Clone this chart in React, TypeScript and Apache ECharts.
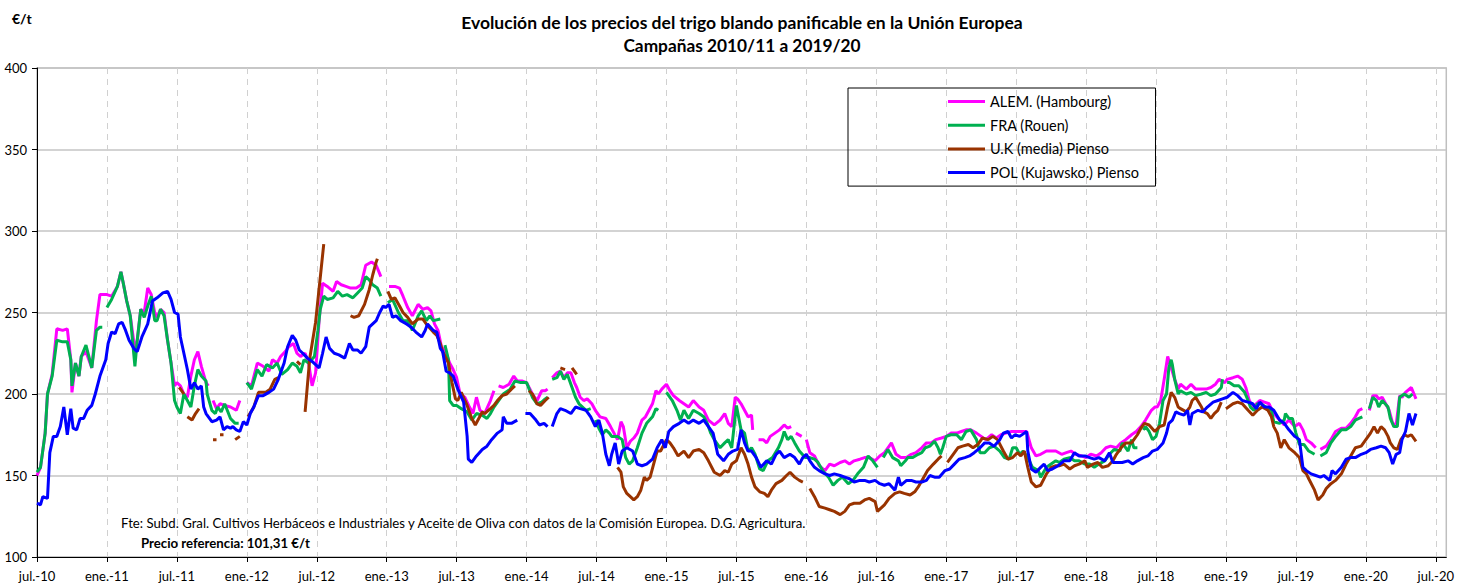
import React, { useEffect, useRef } from "react";
import * as echarts from "echarts";

// x = months since July 2010 (0 = jul.-10, 120 = jul.-20); y = €/t ; null = gap in the weekly series
const xTickLabels = [
  "jul.-10", "ene.-11", "jul.-11", "ene.-12", "jul.-12", "ene.-13", "jul.-13", "ene.-14",
  "jul.-14", "ene.-15", "jul.-15", "ene.-16", "jul.-16", "ene.-17", "jul.-17", "ene.-18",
  "jul.-18", "ene.-19", "jul.-19", "ene.-20", "jul.-20",
];
const seriesNames = ["ALEM. (Hambourg)", "FRA (Rouen)", "U.K (media) Pienso", "POL (Kujawsko.) Pienso"];
const seriesColors = ["#FF00FF", "#00B050", "#993300", "#0000FF"];

const alemHambourg: [number, number | null][] = [
  [0,150],[0.3,155],[0.7,176],[0.9,200],[1.3,212],[1.7,240],[2.2,239],[2.6,240],[2.9,221],[3.0,201],[3.3,219],[3.6,211],[3.8,223],[4.2,226],[4.7,216],[5.1,245],[5.4,261],[6.0,261],[6.4,260],[6.9,266],[7.2,275],[7.4,268],[7.7,257],[8.0,248],[8.4,227],[8.6,233],[8.9,252],[9.2,250],[9.5,265],[9.8,261],[10.1,250],[10.3,247],[10.6,252],[10.9,250],[11.2,233],[11.5,219],[11.8,205],[12.0,207],[12.3,205],[12.6,200],[12.9,198],[13.2,211],[13.5,221],[13.8,226],[14.1,217],[14.5,207],[14.7,205],[14.9,null],
  [15.1,196],[15.4,191],[15.7,194],[16.1,193],[16.6,192],[17.1,190],[17.4,196],[17.6,null],
  [18.0,207],[18.4,205],[18.9,219],[19.4,217],[19.9,214],[20.2,221],[20.6,219],[20.9,223],[21.3,226],[21.6,229],[22.0,231],[22.3,225],[22.6,223],[23.0,225],[23.3,219],[23.6,205],[23.9,213],[24.2,245],[24.5,268],[24.9,266],[25.4,263],[25.7,269],[26.1,267],[26.5,266],[26.9,265],[27.4,265],[27.8,267],[28.2,279],[28.7,281],[29.1,279],[29.5,272],[29.8,null],
  [30.2,266],[30.7,266],[31.1,265],[31.4,260],[31.8,253],[32.2,248],[32.7,255],[33.1,252],[33.5,253],[33.8,251],[34.1,243],[34.4,239],[34.7,229],[35.1,225],[35.4,219],[35.7,215],[36.0,210],[36.3,200],[36.7,198],[37.1,192],[37.4,188],[37.7,198],[38.0,190],[38.4,188],[38.9,196],[39.2,202],[39.4,null],
  [39.6,205],[40.0,204],[40.5,206],[40.9,211],[41.2,208],[41.6,208],[42.0,207],[42.5,200],[42.9,196],[43.3,202],[43.6,202],[43.8,203],[44.0,null],
  [44.2,210],[44.6,213],[44.9,214],[45.2,210],[45.5,213],[45.8,213],[46.1,207],[46.3,204],[46.6,198],[46.9,196],[47.2,197],[47.6,194],[47.9,190],[48.3,186],[48.8,185],[49.2,180],[49.5,176],[49.8,172],[50.1,183],[50.3,180],[50.6,167],[50.9,171],[51.2,173],[51.5,176],[51.9,184],[52.2,186],[52.5,190],[52.8,194],[53.1,202],[53.3,200],[53.6,203],[54.0,206],[54.3,202],[54.6,199],[55.1,196],[55.5,194],[55.9,192],[56.3,196],[56.8,192],[57.2,190],[57.6,184],[58.1,181],[58.6,184],[59.0,188],[59.3,182],[59.6,180],[59.9,198],[60.1,197],[60.4,194],[60.7,190],[61.0,186],[61.3,187],[61.4,178],[61.6,null],
  [61.9,172],[62.3,172],[62.6,170],[62.9,174],[63.3,176],[63.7,178],[64.1,181],[64.4,179],[64.7,180],[64.9,null],
  [65.1,176],[65.6,174],[65.8,null],
  [66.0,172],[66.3,164],[66.7,162],[67.1,156],[67.6,153],[68.0,157],[68.4,156],[68.9,158],[69.3,159],[69.7,157],[70.1,159],[70.6,160],[71.0,161],[71.4,161],[71.9,159],[72.3,162],[72.7,164],[73.0,167],[73.3,170],[73.7,163],[74.1,161],[74.6,161],[75.0,163],[75.4,164],[75.9,167],[76.3,170],[76.7,170],[77.1,172],[77.6,173],[78.0,174],[78.4,176],[78.9,176],[79.3,177],[79.7,178],[80.1,178],[80.6,176],[81.0,174],[81.4,172],[81.9,175],[82.3,173],[82.7,175],[83.1,176],[83.6,177],[84.0,177],[84.4,177],[84.9,177],[85.3,167],[85.7,162],[86.1,163],[86.6,165],[87.1,165],[87.4,165],[87.9,163],[88.3,164],[88.7,165],[89.1,163],[89.6,162],[90.0,161],[90.4,163],[90.9,162],[91.3,164],[91.7,167],[92.1,168],[92.6,167],[93.0,170],[93.4,172],[93.9,175],[94.3,177],[94.7,180],[95.1,184],[95.6,190],[95.9,192],[96.1,192],[96.4,196],[96.7,209],[97.0,223],[97.3,216],[97.6,209],[97.9,203],[98.1,206],[98.6,203],[99.0,206],[99.4,203],[99.9,203],[100.3,203],[100.7,204],[101.1,206],[101.4,209],[101.9,207],[102.1,209],[102.6,210],[103.0,211],[103.4,209],[103.7,204],[104.0,196],[104.3,192],[104.6,194],[104.9,196],[105.3,195],[105.7,194],[106.1,188],[106.6,184],[107.0,181],[107.4,184],[107.9,180],[108.3,182],[108.6,178],[108.9,172],[109.3,170],[109.7,167],[109.9,null],
  [110.1,166],[110.6,168],[111.0,172],[111.4,177],[111.9,179],[112.3,179],[112.7,182],[113.1,186],[113.4,190],[113.7,191],[114.0,null],
  [114.3,190],[114.6,199],[114.9,199],[115.1,197],[115.4,198],[115.7,194],[116.0,190],[116.3,182],[116.6,181],[116.9,199],[117.1,198],[117.4,201],[117.9,204],[118.3,197],
];

const fraRouen: [number, number | null][] = [
  [0,152],[0.3,155],[0.7,176],[0.9,200],[1.3,211],[1.7,233],[2.2,232],[2.6,232],[2.9,221],[3.0,205],[3.3,219],[3.6,211],[3.8,223],[4.2,230],[4.7,216],[5.1,239],[5.4,241],[5.6,241],[5.8,null],
  [6.0,253],[6.4,258],[6.9,266],[7.2,275],[7.4,268],[7.7,257],[8.0,248],[8.4,217],[8.6,233],[8.9,252],[9.2,247],[9.5,254],[9.8,260],[10.1,245],[10.3,245],[10.6,252],[10.9,248],[11.2,233],[11.5,219],[11.8,196],[12.0,192],[12.3,188],[12.6,200],[12.9,196],[13.2,192],[13.5,205],[13.8,215],[14.1,211],[14.5,208],[14.6,200],[15.0,190],[15.3,188],[15.5,192],[15.8,189],[16.1,194],[16.6,185],[17.0,182],[17.3,182],[17.6,null],
  [18.0,207],[18.4,203],[18.9,215],[19.3,211],[19.7,218],[20.2,216],[20.6,219],[21.0,212],[21.5,215],[21.9,219],[22.3,217],[22.6,213],[22.9,221],[23.3,219],[23.8,223],[24.1,239],[24.3,252],[24.6,260],[24.9,258],[25.4,259],[25.8,263],[26.2,260],[26.6,261],[27.1,259],[27.5,262],[27.9,265],[28.2,272],[28.5,270],[28.8,267],[29.2,265],[29.5,260],[29.7,null],
  [30.1,256],[30.5,258],[31.0,250],[31.4,245],[31.8,245],[32.2,239],[32.7,248],[33.0,251],[33.4,245],[33.7,248],[34.0,245],[34.6,246],[34.8,null],
  [35.0,230],[35.3,221],[35.4,196],[35.7,193],[36.0,193],[36.4,191],[36.9,189],[37.3,184],[37.7,188],[38.2,187],[38.6,185],[38.9,188],[39.2,192],[39.6,196],[40.0,200],[40.6,203],[41.0,208],[41.5,207],[42.0,207],[42.5,198],[42.9,194],[43.3,195],[43.6,197],[43.8,198],[44.0,null],
  [44.2,209],[44.6,210],[44.9,214],[45.2,209],[45.5,212],[45.9,204],[46.2,198],[46.5,194],[46.8,192],[47.1,190],[47.5,191],[47.7,null],
  [47.9,184],[48.2,179],[48.5,175],[48.8,178],[49.1,176],[49.3,174],[49.8,174],[50.2,172],[50.5,161],[50.8,157],[51.1,159],[51.5,167],[51.9,176],[52.3,182],[52.8,186],[53.1,191],[53.3,190],[53.6,null],
  [54.0,201],[54.5,196],[54.9,190],[55.2,184],[55.5,190],[55.9,185],[56.3,190],[56.8,188],[57.2,186],[57.5,182],[57.8,176],[58.1,172],[58.6,167],[59.0,170],[59.3,172],[59.6,167],[60.0,193],[60.4,178],[60.7,176],[61.0,165],[61.3,167],[61.6,163],[62.0,154],[62.3,153],[62.7,159],[63.1,161],[63.6,167],[63.9,172],[64.1,177],[64.4,172],[64.7,174],[65.0,170],[65.4,165],[65.9,161],[66.3,161],[66.7,160],[67.0,158],[67.4,153],[67.9,149],[68.3,144],[68.7,147],[69.1,149],[69.6,145],[70.0,147],[70.4,151],[70.9,155],[71.3,162],[71.7,159],[72.1,155],[72.4,null],
  [72.6,161],[73.0,166],[73.4,161],[73.9,159],[74.1,156],[74.5,159],[74.7,161],[75.1,161],[75.6,163],[75.9,164],[76.2,167],[76.6,168],[77.0,171],[77.3,167],[77.5,163],[77.7,167],[78.0,174],[78.4,175],[78.9,175],[79.3,172],[79.7,177],[80.1,178],[80.6,172],[80.9,164],[81.3,164],[81.7,167],[82.1,168],[82.6,165],[83.0,161],[83.4,160],[83.7,167],[84.0,167],[84.3,163],[84.6,165],[85.0,161],[85.4,155],[85.9,153],[86.1,149],[86.6,155],[87.0,157],[87.4,159],[87.7,158],[88.1,160],[88.6,161],[89.0,159],[89.4,159],[89.9,157],[90.3,157],[90.7,155],[91.1,157],[91.6,159],[92.0,163],[92.4,166],[92.9,165],[93.1,170],[93.6,165],[93.9,172],[94.1,167],[94.4,167],[94.6,null],
  [94.9,178],[95.1,180],[95.4,177],[95.7,172],[96.0,174],[96.3,182],[96.6,196],[96.9,200],[97.1,216],[97.3,221],[97.4,218],[97.6,209],[97.9,200],[98.1,202],[98.6,200],[99.0,201],[99.4,199],[99.9,200],[100.3,201],[100.7,199],[101.1,200],[101.6,204],[101.7,209],[101.9,null],
  [102.1,207],[102.3,207],[102.7,205],[103.1,205],[103.6,201],[103.9,196],[104.1,192],[104.4,190],[104.7,194],[105.0,194],[105.4,192],[105.9,190],[106.1,183],[106.6,182],[107.0,184],[107.1,188],[107.4,185],[107.7,185],[108.0,176],[108.3,169],[108.7,169],[109.1,165],[109.6,163],[109.8,null],
  [110.1,162],[110.6,164],[111.0,170],[111.4,174],[111.9,178],[112.3,178],[112.7,180],[113.1,184],[113.4,185],[113.7,186],[114.0,null],
  [114.3,191],[114.6,198],[114.9,196],[115.1,192],[115.4,196],[115.9,192],[116.1,185],[116.4,180],[116.7,180],[116.9,198],[117.3,200],[117.7,198],[118.0,200],
];

const ukPienso: [number, number | null][] = [
  [12.2,204],[12.6,200],[12.8,null],
  [12.9,186],[13.3,184],[13.6,188],[13.9,191],[14.1,null],
  [15.1,172],[15.4,172],[15.55,null],
  [15.7,175],[16.0,175],[16.2,null],
  [17.0,172],[17.4,174],[17.7,null],
  [18.1,186],[18.6,192],[19.0,201],[19.6,201],[20.0,203],[20.4,209],[20.7,210],[20.9,null],
  [22.3,220],[22.6,218],[22.8,null],
  [23.0,189],[23.4,222],[23.9,244],[24.6,292],[24.8,null],
  [26.9,248],[27.2,247],[27.6,248],[28.1,255],[28.5,264],[28.8,273],[29.1,281],[29.2,283],[29.4,null],
  [30.1,263],[30.4,258],[30.7,259],[31.1,254],[31.4,250],[31.8,247],[32.2,243],[32.7,246],[33.1,246],[33.5,242],[34.0,238],[34.3,236],[34.6,231],[34.8,226],[35.3,219],[35.6,207],[35.9,197],[36.1,196],[36.4,201],[36.9,193],[37.3,185],[37.6,181],[37.9,185],[38.2,189],[38.4,188],[38.9,191],[39.2,193],[39.5,196],[39.9,199],[40.3,200],[40.7,203],[41.0,205],[41.2,null],
  [42.2,202],[42.5,200],[42.9,194],[43.2,193],[43.6,196],[43.9,198],[44.1,null],
  [44.9,216],[45.3,215],[45.5,null],
  [45.9,216],[46.3,212],[46.5,null],
  [49.8,155],[50.1,152],[50.3,143],[50.6,139],[50.9,137],[51.2,135],[51.5,137],[51.8,141],[52.1,149],[52.3,147],[52.6,149],[52.9,157],[53.2,165],[53.5,165],[54.0,172],[54.3,170],[54.6,167],[55.0,162],[55.5,165],[55.9,161],[56.3,165],[56.8,166],[57.2,164],[57.6,159],[58.1,152],[58.6,150],[59.0,153],[59.3,152],[59.6,157],[60.0,159],[60.4,167],[60.7,163],[61.0,157],[61.3,149],[61.6,143],[62.0,140],[62.4,139],[62.7,137],[63.0,141],[63.4,145],[63.9,147],[64.3,150],[64.6,152],[65.0,149],[65.4,147],[65.7,146],[65.9,null],
  [66.3,142],[66.7,137],[67.1,131],[67.6,130],[68.0,129],[68.4,128],[68.9,126],[69.3,128],[69.7,132],[70.1,133],[70.6,133],[71.0,135],[71.4,136],[71.9,134],[72.1,128],[72.4,130],[72.7,132],[73.1,136],[73.6,139],[74.0,140],[74.4,139],[74.9,138],[75.3,140],[75.6,143],[76.0,148],[76.4,153],[76.9,157],[77.3,160],[77.6,162],[77.8,null],
  [78.1,158],[78.6,163],[79.0,167],[79.4,168],[79.9,169],[80.3,167],[80.7,169],[81.1,173],[81.6,172],[82.0,174],[82.4,172],[82.9,165],[83.3,160],[83.7,161],[84.1,164],[84.4,162],[84.7,165],[85.0,155],[85.3,146],[85.7,143],[86.1,144],[86.6,151],[87.0,155],[87.4,156],[87.7,156],[88.1,157],[88.6,154],[89.0,156],[89.4,157],[89.9,159],[90.1,155],[90.6,157],[91.0,158],[91.4,155],[91.9,156],[92.3,159],[92.6,163],[93.0,167],[93.4,170],[93.9,170],[94.1,172],[94.4,175],[94.7,179],[95.0,182],[95.4,181],[95.9,177],[96.3,180],[96.7,181],[97.0,192],[97.3,201],[97.6,198],[97.9,192],[98.1,191],[98.6,189],[98.9,192],[99.1,196],[99.4,198],[99.9,192],[100.1,189],[100.4,188],[100.7,185],[101.0,188],[101.3,190],[101.6,195],[101.8,null],
  [102.0,191],[102.6,194],[103.0,195],[103.4,194],[103.9,190],[104.3,187],[104.7,190],[105.1,192],[105.6,190],[105.9,186],[106.1,180],[106.4,176],[106.7,167],[107.0,172],[107.4,167],[107.9,164],[108.3,161],[108.6,153],[108.9,151],[109.1,148],[109.6,141],[109.9,135],[110.3,138],[110.6,142],[111.0,145],[111.4,147],[111.9,151],[112.3,157],[112.7,162],[113.1,167],[113.6,168],[114.0,172],[114.4,176],[114.7,180],[115.0,176],[115.3,180],[115.6,178],[115.9,174],[116.1,170],[116.4,167],[116.7,166],[117.0,172],[117.3,175],[117.6,174],[117.9,175],[118.3,171],
];

const polKujawsko: [number, number | null][] = [
  [0,133],[0.3,132],[0.5,137],[0.9,136],[1.1,164],[1.4,174],[1.7,174],[2.0,180],[2.3,192],[2.6,175],[2.9,191],[3.1,179],[3.4,178],[3.7,185],[4.0,185],[4.3,190],[4.7,193],[5.0,200],[5.4,211],[5.9,221],[6.1,231],[6.4,238],[6.7,237],[7.0,243],[7.3,244],[7.6,239],[7.9,233],[8.3,228],[8.6,226],[9.0,235],[9.5,243],[9.9,257],[10.3,259],[10.8,262],[11.2,263],[11.5,258],[11.8,250],[12.1,249],[12.3,235],[12.6,225],[12.9,215],[13.2,203],[13.5,207],[13.8,203],[14.1,205],[14.3,192],[14.5,188],[15.0,183],[15.4,184],[15.7,186],[16.0,178],[16.3,180],[16.6,179],[16.8,180],[17.1,178],[17.4,177],[17.7,183],[18.0,181],[18.3,188],[18.6,192],[19.0,199],[19.4,199],[19.9,201],[20.3,203],[20.7,209],[21.2,219],[21.5,229],[21.9,236],[22.2,233],[22.5,227],[22.8,225],[23.2,222],[23.6,220],[23.9,218],[24.2,216],[24.5,225],[24.8,235],[25.1,228],[25.5,225],[25.9,224],[26.4,222],[26.8,231],[27.1,227],[27.5,227],[27.8,225],[28.2,229],[28.5,241],[28.8,243],[29.1,245],[29.4,250],[29.7,254],[29.9,253],[30.2,255],[30.5,247],[30.8,248],[31.2,245],[31.7,243],[32.1,241],[32.5,238],[33.0,235],[33.3,239],[33.5,243],[34.0,239],[34.3,238],[34.6,228],[34.8,226],[35.1,214],[35.4,213],[35.7,211],[36.1,203],[36.6,195],[36.9,174],[37.0,160],[37.3,158],[37.7,162],[38.2,166],[38.6,168],[39.0,172],[39.5,176],[39.9,178],[40.0,186],[40.3,182],[40.7,182],[41.2,184],[41.5,null],
  [41.9,188],[42.3,188],[42.8,184],[43.1,181],[43.5,182],[43.8,180],[44.0,null],
  [44.2,180],[44.6,188],[44.9,191],[45.3,190],[45.8,188],[46.2,192],[46.6,191],[47.1,190],[47.5,186],[47.9,180],[48.2,184],[48.5,176],[48.8,163],[49.1,156],[49.3,163],[49.6,170],[49.9,157],[50.2,165],[50.6,167],[51.1,165],[51.5,157],[51.9,156],[52.3,157],[52.8,160],[53.2,167],[53.6,172],[53.9,167],[54.2,177],[54.6,180],[55.1,182],[55.5,184],[55.9,182],[56.3,184],[56.8,182],[57.2,184],[57.6,180],[58.0,176],[58.4,163],[58.9,159],[59.3,163],[59.7,165],[60.1,166],[60.4,178],[60.7,170],[61.0,165],[61.3,165],[61.7,161],[62.1,155],[62.6,159],[63.0,157],[63.4,163],[63.7,165],[64.1,161],[64.6,163],[65.0,161],[65.4,157],[65.7,161],[66.0,163],[66.3,159],[66.7,155],[67.1,153],[67.6,151],[68.0,150],[68.4,151],[68.9,150],[69.3,149],[69.7,148],[70.1,146],[70.6,147],[71.0,147],[71.4,146],[71.9,147],[72.3,145],[72.7,144],[73.1,145],[73.6,141],[73.9,149],[74.1,144],[74.6,147],[75.0,147],[75.4,146],[75.9,146],[76.3,147],[76.6,150],[77.0,149],[77.4,149],[77.9,153],[78.3,154],[78.7,157],[79.1,160],[79.6,161],[80.0,162],[80.4,164],[80.9,167],[81.3,170],[81.7,170],[82.1,168],[82.6,172],[82.9,176],[83.3,177],[83.6,173],[83.9,175],[84.3,174],[84.7,176],[84.9,177],[85.0,165],[85.3,154],[85.7,152],[86.1,155],[86.4,157],[86.7,153],[87.1,154],[87.6,156],[88.1,159],[88.6,159],[89.0,164],[89.4,162],[89.9,162],[90.3,161],[90.7,160],[91.1,161],[91.6,159],[92.0,164],[92.3,158],[92.7,158],[93.1,158],[93.6,159],[94.0,157],[94.4,159],[94.9,161],[95.3,162],[95.7,165],[96.1,166],[96.6,170],[96.9,176],[97.1,182],[97.4,184],[97.7,189],[98.0,188],[98.4,187],[98.7,190],[98.9,181],[99.1,188],[99.6,190],[100.0,189],[100.4,192],[100.9,195],[101.3,196],[101.7,197],[102.1,198],[102.6,201],[103.0,199],[103.4,196],[103.9,195],[104.3,194],[104.6,191],[104.9,195],[105.3,192],[105.7,192],[106.1,190],[106.6,184],[107.0,182],[107.4,178],[107.9,174],[108.3,172],[108.6,155],[108.9,153],[109.3,151],[109.7,150],[110.1,149],[110.4,150],[110.9,147],[111.1,153],[111.4,151],[111.9,155],[112.3,160],[112.7,161],[113.1,161],[113.6,163],[114.0,164],[114.4,166],[114.9,167],[115.3,168],[115.7,167],[116.0,164],[116.3,157],[116.6,163],[116.9,164],[117.1,172],[117.4,177],[117.7,188],[118.0,181],[118.3,188],
];

const seriesData = [alemHambourg, fraRouen, ukPienso, polKujawsko];
const tickMonths = xTickLabels.map((_, i) => i * 6);
const FONT = "Lato, 'Liberation Sans', sans-serif";

export default function App() {
  const ref = useRef<HTMLDivElement>(null);
  useEffect(() => {
    if (!ref.current) return;
    const chart = echarts.init(ref.current, undefined, { renderer: "svg" });
    chart.setOption({
      animation: false,
      backgroundColor: "#ffffff",
      textStyle: { fontFamily: FONT },
      grid: {
        left: 37, right: 10, top: 68, bottom: 27,
        show: true, borderColor: "#BFBFBF", borderWidth: 1.5, backgroundColor: "transparent",
      },
      legend: {
        data: seriesNames,
        orient: "vertical",
        left: 848,
        top: 88,
        icon: "rect",
        itemWidth: 37,
        itemHeight: 3,
        itemGap: 8.7,
        borderColor: "#000000",
        borderWidth: 1,
        padding: [6, 16, 6, 100],
        textStyle: { fontFamily: FONT, fontSize: 14.5, lineHeight: 14, color: "#000000" },
      },
      xAxis: {
        type: "value",
        min: 0,
        max: 120.9,
        interval: 6,
        axisLine: { show: true, onZero: false, lineStyle: { color: "#000000", width: 1 } },
        axisTick: { show: true, length: 5, lineStyle: { color: "#000000" }, customValues: tickMonths },
        axisLabel: {
          color: "#000000", fontSize: 13, fontFamily: FONT, margin: 12,
          customValues: tickMonths,
          formatter: (v: number) => {
            const i = Math.round(v / 6);
            return Math.abs(v - i * 6) < 1e-6 && xTickLabels[i] ? xTickLabels[i] : "";
          },
        },
        splitLine: { show: true, lineStyle: { color: "#D0D0D0", width: 1, type: [6, 5] } },
      },
      yAxis: {
        type: "value",
        min: 100,
        max: 400,
        interval: 50,
        axisLine: { show: true, lineStyle: { color: "#000000", width: 1 } },
        axisTick: { show: true, length: 5, lineStyle: { color: "#000000" } },
        axisLabel: { color: "#000000", fontSize: 13, fontFamily: FONT, margin: 10 },
        splitLine: { show: true, lineStyle: { color: "#C4C4C4", width: 1.5 } },
      },
      series: seriesNames.map((name, k) => ({
        name,
        type: "line",
        data: seriesData[k],
        symbol: "none",
        showSymbol: false,
        connectNulls: false,
        color: seriesColors[k],
        lineStyle: { color: seriesColors[k], width: 3 },
        z: 2 + k,
      })),
      graphic: [
        { type: "text", left: 12, top: 11, style: { text: "€/t", font: `bold 14px ${FONT}`, fill: "#000" } },
        {
          type: "text", x: 742, y: 22,
          style: { text: "Evolución de los precios del trigo blando panificable en la Unión Europea", font: `bold 17.5px ${FONT}`, fill: "#000", align: "center", verticalAlign: "middle" },
        },
        {
          type: "text", x: 742, y: 45,
          style: { text: "Campañas 2010/11 a 2019/20", font: `bold 17.3px ${FONT}`, fill: "#000", align: "center", verticalAlign: "middle" },
        },
        {
          type: "text", x: 121, y: 523, z: 10,
          style: { text: "Fte: Subd. Gral. Cultivos Herbáceos e Industriales y Aceite de Oliva con datos de la Comisión Europea. D.G. Agricultura.", font: `13.2px ${FONT}`, fill: "#000", verticalAlign: "middle" },
        },
        {
          type: "text", x: 141, y: 543, z: 10,
          style: { text: "Precio referencia: 101,31 €/t", font: `bold 13.2px ${FONT}`, fill: "#000", verticalAlign: "middle" },
        },
      ],
    });
    return () => chart.dispose();
  }, []);
  return <div ref={ref} style={{ position: "fixed", left: 0, top: 0, width: 1457, height: 584 }} />;
}
